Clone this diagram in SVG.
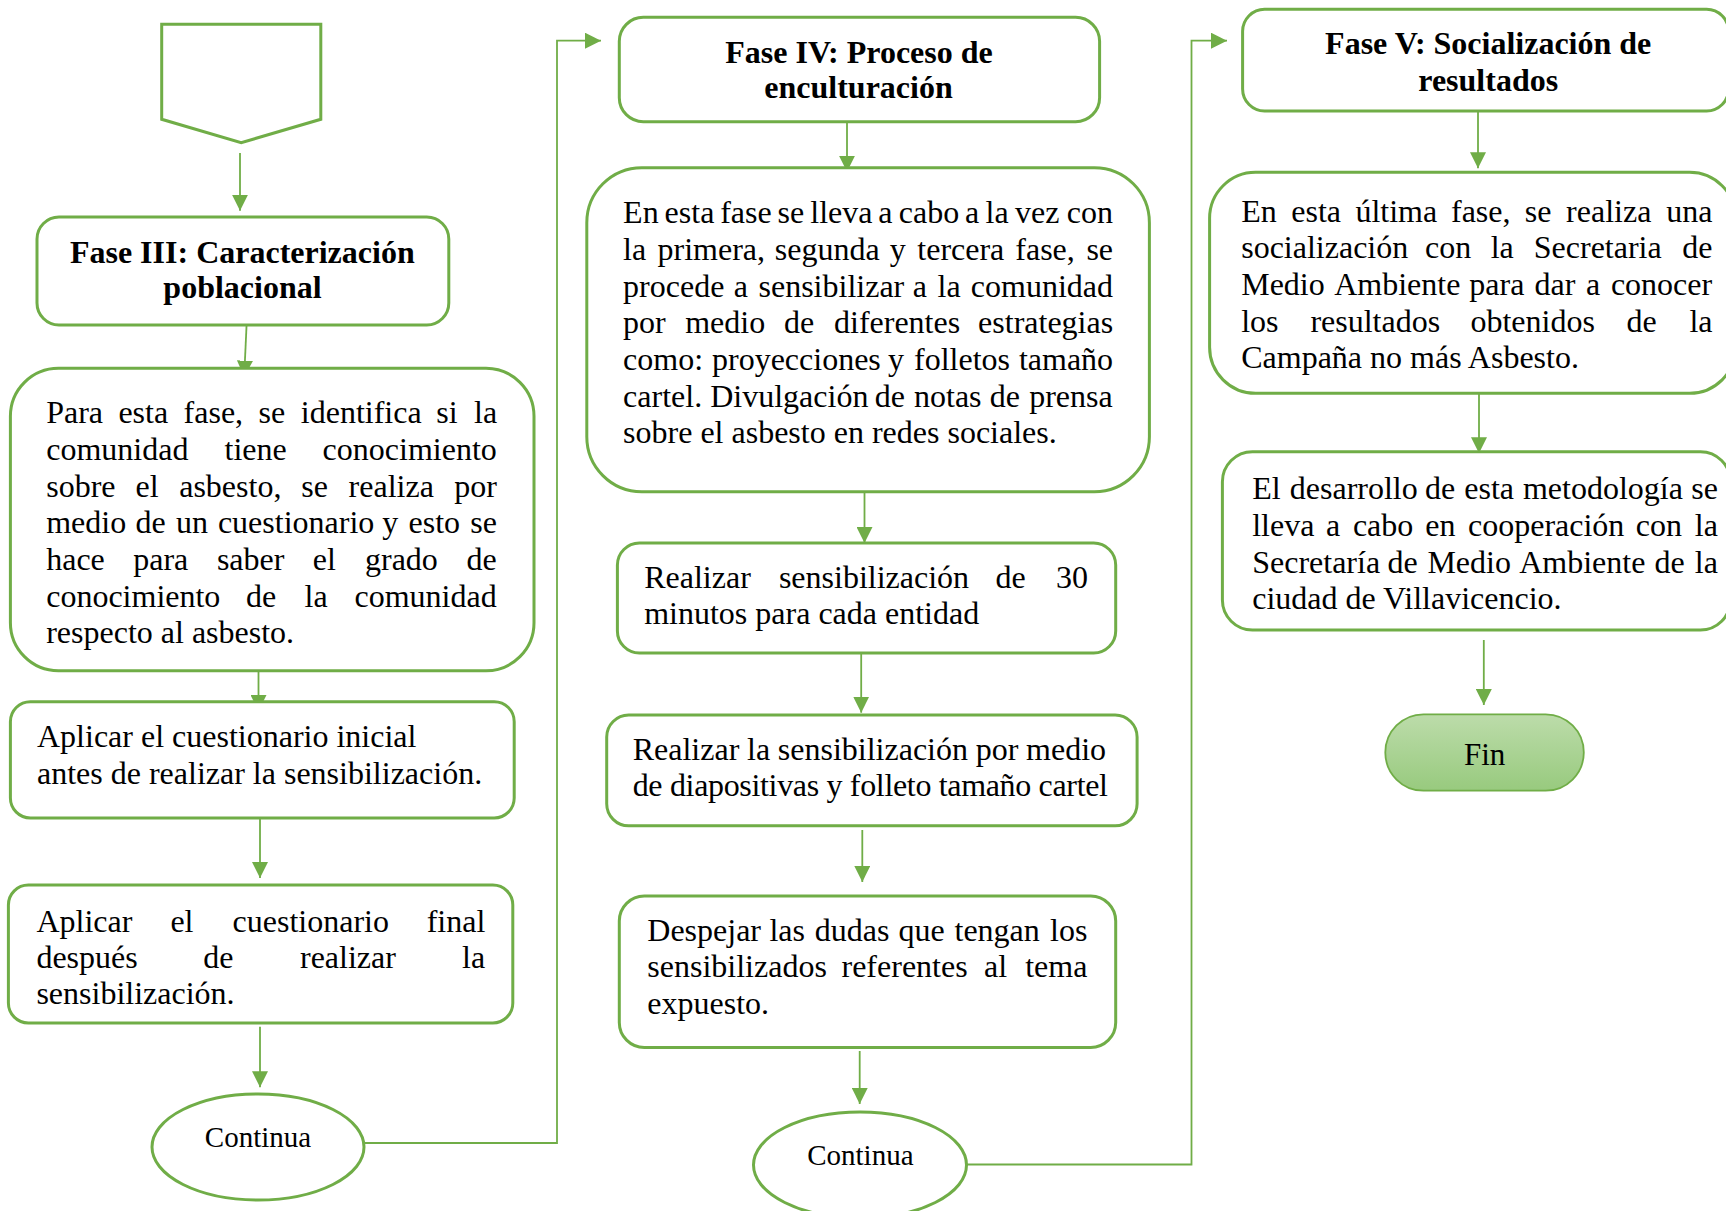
<svg xmlns="http://www.w3.org/2000/svg" width="1726" height="1211" viewBox="0 0 1726 1211">
<style>
.box{fill:#fff;stroke:#70ad47;stroke-width:3}
.conn{fill:none;stroke:#70ad47;stroke-width:1.8;marker-end:url(#ah)}
.t{font-family:"Liberation Serif","Times New Roman",serif;font-size:32px;fill:#000}
.h{font-family:"Liberation Serif","Times New Roman",serif;font-size:32px;font-weight:bold;text-anchor:middle;fill:#000}
.c{font-family:"Liberation Serif","Times New Roman",serif;font-size:29px;text-anchor:middle;fill:#000}
</style>
<defs>
<marker id="ah" markerUnits="userSpaceOnUse" markerWidth="16" markerHeight="16" refX="16" refY="8" orient="auto" viewBox="0 0 16 16"><path d="M0,0 L16,8 L0,16 z" fill="#70ad47"/></marker>
<linearGradient id="fin" x1="0" y1="0" x2="0" y2="1"><stop offset="0" stop-color="#bcdcaa"/><stop offset="1" stop-color="#98ca7e"/></linearGradient>
</defs>
<rect width="1726" height="1211" fill="#fff"/>

<g id="connectors">
<path class="conn" d="M240,153 V210.7"/>
<path class="conn" d="M246.8,320 L244.2,376.7"/>
<path class="conn" d="M258.5,665 V711"/>
<path class="conn" d="M260,818 V878"/>
<path class="conn" d="M260,1026.7 V1087.3"/>
<path class="conn" d="M364,1143 H557 V40.7 H601"/>
<path class="conn" d="M847,121.7 V171.7"/>
<path class="conn" d="M864.5,486 V543"/>
<path class="conn" d="M861.2,653 V712.7"/>
<path class="conn" d="M862.3,830 V882"/>
<path class="conn" d="M859.7,1051 V1104"/>
<path class="conn" d="M951,1164.5 H1191.5 V40.7 H1227"/>
<path class="conn" d="M1478,111 V168.3"/>
<path class="conn" d="M1479,393 V453.3"/>
<path class="conn" d="M1483.8,640 V705"/>
</g>

<g id="inicio">
<polygon class="box" points="161.7,24.3 320.8,24.3 320.8,119.3 241.2,142.7 161.7,119.3"/>
</g>

<g id="fase3">
<rect class="box" x="37" y="217" width="411.8" height="108" rx="22"/>
<text class="h" x="242.3" y="263.3">Fase III: Caracterización</text>
<text class="h" x="242.5" y="298.3">poblacional</text>
</g>

<g id="fase3-desc">
<rect class="box" x="10.4" y="368.3" width="523.6" height="302.4" rx="48"/>
<text class="t" y="423.3"><tspan x="46.2">Para</tspan><tspan x="118.4">esta</tspan><tspan x="183.6">fase,</tspan><tspan x="258.5">se</tspan><tspan x="300.8">identifica</tspan><tspan x="436.2">si</tspan><tspan x="474">la</tspan></text>
<text class="t" y="460"><tspan x="46.2">comunidad</tspan><tspan x="224.5">tiene</tspan><tspan x="322.6">conocimiento</tspan></text>
<text class="t" y="496.7"><tspan x="46.2">sobre</tspan><tspan x="135.5">el</tspan><tspan x="179.2">asbesto,</tspan><tspan x="301.2">se</tspan><tspan x="348.6">realiza</tspan><tspan x="454.2">por</tspan></text>
<text class="t" y="533.3"><tspan x="46.2">medio</tspan><tspan x="135.6">de</tspan><tspan x="175.9">un</tspan><tspan x="217.9">cuestionario</tspan><tspan x="382.2">y</tspan><tspan x="408.5">esto</tspan><tspan x="470.3">se</tspan></text>
<text class="t" y="570"><tspan x="46.2">hace</tspan><tspan x="133.2">para</tspan><tspan x="216.9">saber</tspan><tspan x="312.8">el</tspan><tspan x="365">grado</tspan><tspan x="466.5">de</tspan></text>
<text class="t" y="606.7"><tspan x="46.2">conocimiento</tspan><tspan x="245.9">de</tspan><tspan x="304.5">la</tspan><tspan x="354.5">comunidad</tspan></text>
<text class="t" x="46.2" y="643.3">respecto al asbesto.</text>
</g>

<g id="cuestionario-inicial">
<rect class="box" x="10.4" y="701.7" width="503.8" height="116.3" rx="20"/>
<text class="t" x="37" y="747">Aplicar el cuestionario inicial</text>
<text class="t" x="37" y="784">antes de realizar la sensibilización.</text>
</g>

<g id="cuestionario-final">
<rect class="box" x="8.4" y="885" width="504.4" height="138" rx="20"/>
<text class="t" y="931.7"><tspan x="36.4">Aplicar</tspan><tspan x="170.4">el</tspan><tspan x="232.6">cuestionario</tspan><tspan x="426.7">final</tspan></text>
<text class="t" y="968.3"><tspan x="36.4">después</tspan><tspan x="203.2">de</tspan><tspan x="300">realizar</tspan><tspan x="462.1">la</tspan></text>
<text class="t" x="36.4" y="1004">sensibilización.</text>
</g>

<g id="continua1">
<ellipse class="box" cx="258" cy="1147" rx="106" ry="53"/>
<text class="c" x="258" y="1147">Continua</text>
</g>

<g id="fase4">
<rect class="box" x="619.3" y="17.3" width="480.3" height="104.4" rx="24"/>
<text class="h" x="859" y="63.3">Fase IV: Proceso de</text>
<text class="h" x="858.5" y="98.3">enculturación</text>
</g>

<g id="fase4-desc">
<rect class="box" x="586.8" y="167.7" width="562.6" height="324" rx="55"/>
<text class="t" y="223.3"><tspan x="623.1">En</tspan><tspan x="664.6">esta</tspan><tspan x="720.2">fase</tspan><tspan x="777.5">se</tspan><tspan x="810.3">lleva</tspan><tspan x="878.2">a</tspan><tspan x="898.8">cabo</tspan><tspan x="964.9">a</tspan><tspan x="985.5">la</tspan><tspan x="1015">vez</tspan><tspan x="1066.8">con</tspan></text>
<text class="t" y="260"><tspan x="623.1">la</tspan><tspan x="657.5">primera,</tspan><tspan x="774.8">segunda</tspan><tspan x="889.8">y</tspan><tspan x="917.3">tercera</tspan><tspan x="1015.3">fase,</tspan><tspan x="1086.4">se</tspan></text>
<text class="t" y="296.7"><tspan x="623.1">procede</tspan><tspan x="733.7">a</tspan><tspan x="758.5">sensibilizar</tspan><tspan x="912.8">a</tspan><tspan x="937.6">la</tspan><tspan x="970.8">comunidad</tspan></text>
<text class="t" y="333.3"><tspan x="623.1">por</tspan><tspan x="685.2">medio</tspan><tspan x="784.1">de</tspan><tspan x="834">diferentes</tspan><tspan x="978.1">estrategias</tspan></text>
<text class="t" y="370"><tspan x="623.1">como:</tspan><tspan x="712">proyecciones</tspan><tspan x="887.9">y</tspan><tspan x="914">folletos</tspan><tspan x="1018.9">tamaño</tspan></text>
<text class="t" y="406.7"><tspan x="623.1">cartel.</tspan><tspan x="710.2">Divulgación</tspan><tspan x="874.8">de</tspan><tspan x="914">notas</tspan><tspan x="989.8">de</tspan><tspan x="1029.2">prensa</tspan></text>
<text class="t" x="623.1" y="443.3">sobre el asbesto en redes sociales.</text>
</g>

<g id="sensibilizacion-30">
<rect class="box" x="617.4" y="543" width="498.3" height="110" rx="22"/>
<text class="t" y="588.2"><tspan x="644.2">Realizar</tspan><tspan x="778.9">sensibilización</tspan><tspan x="995.6">de</tspan><tspan x="1056.1">30</tspan></text>
<text class="t" x="644.2" y="624.4">minutos para cada entidad</text>
</g>

<g id="diapositivas">
<rect class="box" x="606.7" y="715" width="530.4" height="110.8" rx="22"/>
<text class="t" y="760.2"><tspan x="632.7">Realizar</tspan><tspan x="747">la</tspan><tspan x="777.8">sensibilización</tspan><tspan x="975.7">por</tspan><tspan x="1026.1">medio</tspan></text>
<text class="t" x="632.7" y="796.4" textLength="475.3" lengthAdjust="spacing">de diapositivas y folleto tamaño cartel</text>
</g>

<g id="dudas">
<rect class="box" x="619.3" y="896" width="496.4" height="151.5" rx="25"/>
<text class="t" y="941.2"><tspan x="647.3">Despejar</tspan><tspan x="769.4">las</tspan><tspan x="814.7">dudas</tspan><tspan x="898.5">que</tspan><tspan x="954.5">tengan</tspan><tspan x="1050">los</tspan></text>
<text class="t" y="977.4"><tspan x="647.3">sensibilizados</tspan><tspan x="841.5">referentes</tspan><tspan x="984">al</tspan><tspan x="1025.2">tema</tspan></text>
<text class="t" x="647.3" y="1013.6">expuesto.</text>
</g>

<g id="continua2">
<ellipse class="box" cx="860" cy="1165" rx="106.5" ry="53"/>
<text class="c" x="860.4" y="1165">Continua</text>
</g>

<g id="fase5">
<rect class="box" x="1242.6" y="9.3" width="486" height="101.7" rx="22"/>
<text class="h" x="1488.2" y="54.3">Fase V: Socialización de</text>
<text class="h" x="1488.2" y="90.7">resultados</text>
</g>

<g id="fase5-desc">
<rect class="box" x="1209.6" y="172.3" width="526" height="221" rx="46"/>
<text class="t" y="221.7"><tspan x="1241.2">En</tspan><tspan x="1291.3">esta</tspan><tspan x="1355.4">última</tspan><tspan x="1451">fase,</tspan><tspan x="1524.8">se</tspan><tspan x="1566.1">realiza</tspan><tspan x="1666.2">una</tspan></text>
<text class="t" y="258.3"><tspan x="1241.2">socialización</tspan><tspan x="1425">con</tspan><tspan x="1490.7">la</tspan><tspan x="1533.8">Secretaria</tspan><tspan x="1682.3">de</tspan></text>
<text class="t" y="295"><tspan x="1241.2">Medio</tspan><tspan x="1334.2">Ambiente</tspan><tspan x="1469.3">para</tspan><tspan x="1534.6">dar</tspan><tspan x="1585.9">a</tspan><tspan x="1610.9">conocer</tspan></text>
<text class="t" y="331.7"><tspan x="1241.2">los</tspan><tspan x="1310.4">resultados</tspan><tspan x="1470.4">obtenidos</tspan><tspan x="1626.4">de</tspan><tspan x="1689.4">la</tspan></text>
<text class="t" x="1241.2" y="368.3">Campaña no más Asbesto.</text>
</g>

<g id="cooperacion">
<rect class="box" x="1222.4" y="451.7" width="508" height="178.3" rx="30"/>
<text class="t" y="499.3"><tspan x="1252.2">El</tspan><tspan x="1289.8">desarrollo</tspan><tspan x="1425.1">de</tspan><tspan x="1464.3">esta</tspan><tspan x="1522.9">metodología</tspan><tspan x="1691.3">se</tspan></text>
<text class="t" y="536"><tspan x="1252.2">lleva</tspan><tspan x="1325.9">a</tspan><tspan x="1352.9">cabo</tspan><tspan x="1425.3">en</tspan><tspan x="1468">cooperación</tspan><tspan x="1635.8">con</tspan><tspan x="1694.8">la</tspan></text>
<text class="t" y="572.7"><tspan x="1252.2">Secretaría</tspan><tspan x="1387.6">de</tspan><tspan x="1427.4">Medio</tspan><tspan x="1519.2">Ambiente</tspan><tspan x="1654.5">de</tspan><tspan x="1694.8">la</tspan></text>
<text class="t" x="1252.2" y="609.3">ciudad de Villavicencio.</text>
</g>

<g id="fin">
<rect x="1385.3" y="714.3" width="198.5" height="76.4" rx="38.2" fill="url(#fin)" stroke="#70ad47" stroke-width="1.8"/>
<text class="c" style="font-size:31px" x="1484.6" y="765">Fin</text>
</g>
</svg>
